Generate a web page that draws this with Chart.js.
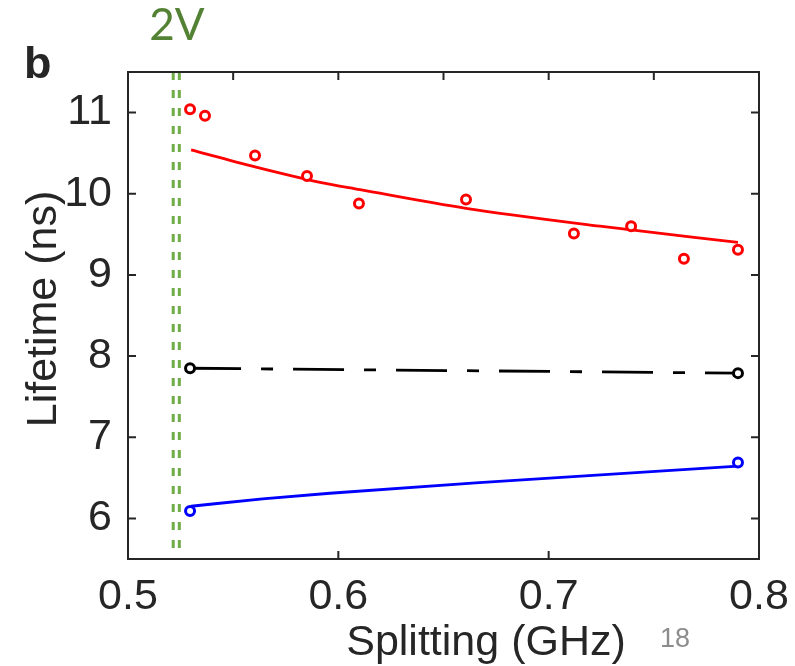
<!DOCTYPE html>
<html>
<head>
<meta charset="utf-8">
<script src="https://cdn.jsdelivr.net/npm/chart.js@4.4.1/dist/chart.umd.min.js"></script>
<style>
  html, body { margin: 0; padding: 0; background: #fff; }
  canvas { display: block; }
</style>
</head>
<body>
<canvas id="lifetimeChart" width="795" height="666"></canvas>
<script>
// measured lifetimes (x: splitting in GHz, y: lifetime in ns)
const redSplit = [0.5295, 0.5366, 0.5604, 0.5851, 0.6098, 0.6607, 0.7120, 0.7392, 0.7643, 0.7900];
const redLife = [11.04, 10.96, 10.47, 10.22, 9.88, 9.93, 9.51, 9.60, 9.20, 9.31];

// fit through the red points
const redFitSplit = [0.530, 0.5604, 0.5913, 0.6103, 0.6607, 0.7244, 0.790];
const redFitLife = [10.54, 10.33, 10.14, 10.05, 9.82, 9.60, 9.40];

const blackSplit = [0.5295, 0.790];
const blackLife = [7.85, 7.79];

const blueSplit = [0.5295, 0.790];
const blueLife = [6.09, 6.69];
const blueFitSplit = [0.530, 0.564, 0.596, 0.667, 0.790];
const blueFitLife = [6.15, 6.24, 6.31, 6.44, 6.645];

// the "2V" double marker
const markerSplit = [0.5215, 0.5244];
const markerLife = [11.5, 5.5];

const xTicks = [0.5, 0.6, 0.7, 0.8];
const xTopTicks = [0.55, 0.6, 0.65, 0.7, 0.75];
const yTicks = [6, 7, 8, 9, 10, 11];

const axisColor = '#262626';
const fontFamily = '"Liberation Sans", Arial, sans-serif';

const toPoints = (xs, ys) => xs.map((x, i) => ({ x: x, y: ys[i] }));

// box, inward ticks and the loose texts
const framePlugin = {
    id: 'frame',
    afterDraw(chart) {
        const { ctx, chartArea: a, scales } = chart;
        ctx.save();
        ctx.strokeStyle = axisColor;
        ctx.lineWidth = 2;
        ctx.strokeRect(a.left, a.top, a.right - a.left, a.bottom - a.top);

        ctx.beginPath();
        yTicks.forEach(v => {
            const y = scales.y.getPixelForValue(v);
            ctx.moveTo(a.left, y); ctx.lineTo(a.left + 8, y);
            ctx.moveTo(a.right, y); ctx.lineTo(a.right - 8, y);
        });
        xTicks.forEach(v => {
            const x = scales.x.getPixelForValue(v);
            ctx.moveTo(x, a.bottom); ctx.lineTo(x, a.bottom - 8);
        });
        xTopTicks.forEach(v => {
            const x = scales.x.getPixelForValue(v);
            ctx.moveTo(x, a.top); ctx.lineTo(x, a.top + 8);
        });
        ctx.stroke();

        ctx.fillStyle = axisColor;
        ctx.font = '43px ' + fontFamily;
        ctx.textAlign = 'center';
        ctx.textBaseline = 'alphabetic';
        ctx.fillText('Splitting (GHz)', 486, 655);

        ctx.save();
        ctx.translate(56, 309);
        ctx.rotate(-Math.PI / 2);
        ctx.fillText('Lifetime (ns)', 0, 0);
        ctx.restore();

        ctx.font = 'bold 45px ' + fontFamily;
        ctx.textAlign = 'left';
        ctx.fillText('b', 24, 78);

        ctx.fillStyle = '#548235';
        ctx.font = '44px Lato, "Open Sans", sans-serif';
        ctx.textAlign = 'center';
        ctx.fillText('2V', 177, 40);

        ctx.fillStyle = '#8c8c8c';
        ctx.font = '27px ' + fontFamily;
        ctx.textAlign = 'left';
        ctx.fillText('18', 660, 647);
        ctx.restore();
    }
};

const hidden = { display: false };

const ring = color => ({
    pointRadius: 4.5,
    pointBorderWidth: 3,
    pointBorderColor: color,
    pointBackgroundColor: '#ffffff'
});

new Chart(document.getElementById('lifetimeChart'), {
    type: 'line',
    data: {
        datasets: [
            Object.assign({ data: toPoints(redSplit, redLife), showLine: false }, ring('#ff0000')),
            Object.assign({
                data: toPoints(blackSplit, blackLife),
                borderColor: '#000000',
                borderWidth: 2.8,
                borderDash: [51, 20, 12, 20]
            }, ring('#000000')),
            Object.assign({ data: toPoints(blueSplit, blueLife), showLine: false }, ring('#0000ff')),
            {
                data: toPoints(redFitSplit, redFitLife),
                borderColor: '#ff0000',
                borderWidth: 2.8,
                pointRadius: 0,
                cubicInterpolationMode: 'monotone'
            },
            {
                data: toPoints(blueFitSplit, blueFitLife),
                borderColor: '#0000ff',
                borderWidth: 2.8,
                pointRadius: 0,
                cubicInterpolationMode: 'monotone'
            },
            {
                data: markerLife.map(y => ({ x: markerSplit[0], y: y })),
                borderColor: '#70ad47',
                borderWidth: 3,
                borderDash: [8, 10],
                pointRadius: 0
            },
            {
                data: markerLife.map(y => ({ x: markerSplit[1], y: y })),
                borderColor: '#70ad47',
                borderWidth: 3,
                borderDash: [8, 10],
                pointRadius: 0
            }
        ]
    },
    options: {
        responsive: false,
        animation: false,
        devicePixelRatio: 1,
        layout: { padding: 0 },
        plugins: {
            legend: hidden,
            tooltip: { enabled: false }
        },
        scales: {
            x: {
                type: 'linear',
                position: 'bottom',
                min: 0.5,
                max: 0.8,
                grid: hidden,
                border: hidden,
                ticks: {
                    font: { family: fontFamily, size: 43 },
                    color: axisColor,
                    padding: 4,
                    maxRotation: 0,
                    autoSkip: false,
                    callback: v => v.toFixed(1)
                },
                afterBuildTicks: s => { s.ticks = xTicks.map(v => ({ value: v })); },
                afterFit: s => { s.height = 107; }
            },
            xTop: {
                type: 'linear',
                position: 'top',
                min: 0.5,
                max: 0.8,
                grid: hidden,
                border: hidden,
                ticks: hidden,
                afterFit: s => { s.height = 72; }
            },
            y: {
                type: 'linear',
                position: 'left',
                min: 5.5,
                max: 11.5,
                grid: hidden,
                border: hidden,
                ticks: {
                    font: { family: fontFamily, size: 43 },
                    color: axisColor,
                    padding: 8,
                    autoSkip: false,
                    callback: v => String(v)
                },
                afterBuildTicks: s => { s.ticks = yTicks.map(v => ({ value: v })); },
                afterFit: s => { s.width = 128; }
            },
            yRight: {
                type: 'linear',
                position: 'right',
                min: 5.5,
                max: 11.5,
                grid: hidden,
                border: hidden,
                ticks: hidden,
                afterFit: s => { s.width = 36; }
            }
        }
    },
    plugins: [framePlugin]
});
</script>
</body>
</html>
